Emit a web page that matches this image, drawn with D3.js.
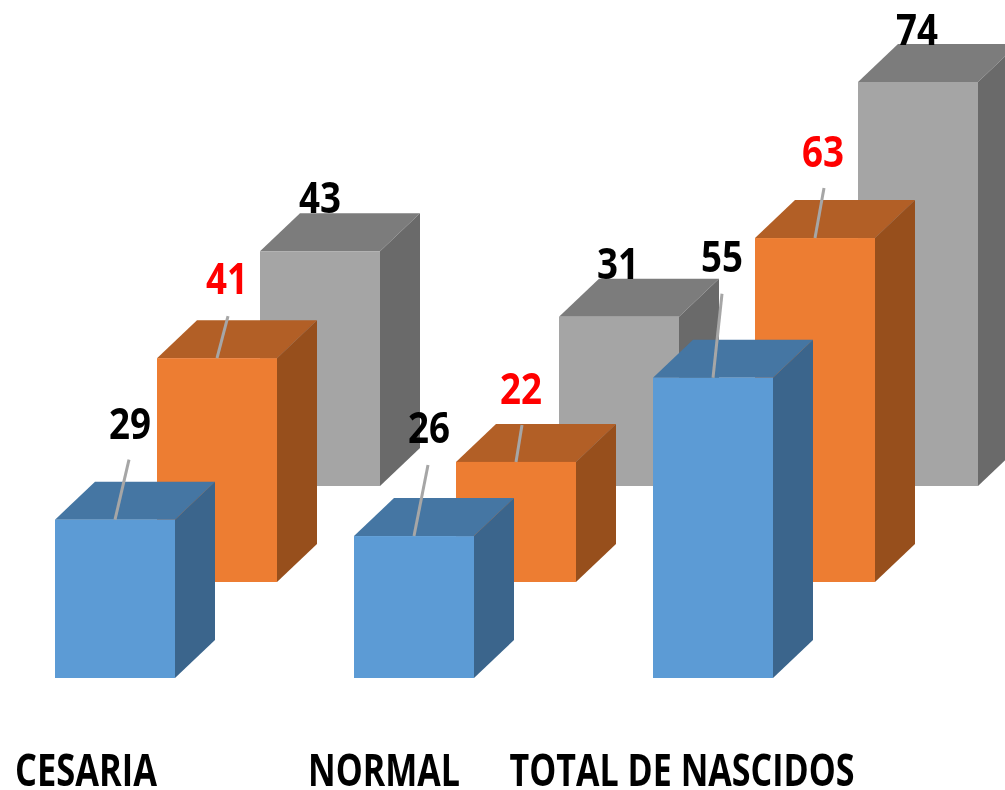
<!DOCTYPE html>
<html><head><meta charset="utf-8">
<script src="https://cdn.jsdelivr.net/npm/d3@7/dist/d3.min.js"></script>
<style>html,body{margin:0;padding:0;background:#fff;overflow:hidden}svg{display:block}</style>
</head><body><svg id="c" width="1005" height="790"></svg>
<script>
const categories = ["CESARIA","NORMAL","TOTAL DE NASCIDOS"];
const seriesNames = ["s3","s2","s1"];
const grayValues = [43,31,74];
const orangeValues = [41,22,63];
const blueValues = [29,26,55];
const svg = d3.select("#c");
const defs = svg.append("defs");
defs.append("filter").attr("id","soft").append("feGaussianBlur").attr("stdDeviation",0.7);
const root = svg.append("g").attr("filter","url(#soft)");
const fontFam = "'Open Sans', 'Noto Sans', sans-serif";
const W = 120, DX = 40, DY = 38;
const x = d3.scaleOrdinal().domain(categories).range([55,354,653]);
const offset = d3.scaleOrdinal().domain(seriesNames).range([205,102,0]);
const base = d3.scaleOrdinal().domain(seriesNames).range([486,582,678]);
const h = d3.scaleLinear().domain([0,74]).range([0,404]);
const cols = {
  s1:{front:"#5b9bd5",top:"#4476a3",side:"#3a658c",lab:"#000"},
  s2:{front:"#ed7d31",top:"#b25e25",side:"#97501f",lab:"#ff0000"},
  s3:{front:"#a5a5a5",top:"#7c7c7c",side:"#6a6a6a",lab:"#000"}};
const series = [["s3",grayValues],["s2",orangeValues],["s1",blueValues]];
// label placement relative to the centre of each bar's front top edge
const layout = {
  s1:[{tx:15,ty:-81,lx:14,ly:-60},{tx:15,ty:-93,lx:14,ly:-71},{tx:9,ty:-106,lx:9,ly:-84}],
  s2:[{tx:10,ty:-64,lx:11,ly:-42},{tx:5,ty:-58,lx:6,ly:-37},{tx:8,ty:-71,lx:9,ly:-50}],
  s3:[{tx:0,ty:-38},{tx:-1,ty:-38},{tx:-1,ty:-37}]
};
const line = d3.line();
series.forEach(([s,vals])=>{
  const g = root.append("g").attr("class",s);
  const c = cols[s];
  categories.forEach((cat,i)=>{
    const x0 = x(cat)+offset(s), y0 = base(s), t = y0-h(vals[i]);
    g.append("path").attr("d",line([[x0,t],[x0+W,t],[x0+W+DX,t-DY],[x0+DX,t-DY]])+"Z").attr("fill",c.top);
    g.append("path").attr("d",line([[x0+W,t],[x0+W+DX,t-DY],[x0+W+DX,y0-DY],[x0+W,y0]])+"Z").attr("fill",c.side);
    g.append("rect").attr("x",x0).attr("y",t).attr("width",W).attr("height",h(vals[i])).attr("fill",c.front);
  });
});
const labels = root.append("g");
series.forEach(([s,vals])=>{
  categories.forEach((cat,i)=>{
    const cx = x(cat)+offset(s)+W/2, t = base(s)-h(vals[i]), o = layout[s][i];
    if(o.lx!==undefined) labels.append("path").attr("d",line([[cx,t],[cx+o.lx,t+o.ly]]))
      .attr("stroke","#a6a6a6").attr("stroke-width",3).attr("fill","none");
    labels.append("text").attr("x",cx+o.tx).attr("y",t+o.ty)
      .attr("text-anchor","middle").attr("font-family",fontFam).attr("font-weight",700).attr("font-size",43)
      .attr("fill",cols[s].lab).attr("textLength",42).attr("lengthAdjust","spacingAndGlyphs").text(vals[i]);
  });
});
const catX = [86,384,682];
root.append("g").selectAll("text").data(categories).join("text")
  .attr("x",(d,i)=>catX[i]).attr("y",786).attr("text-anchor","middle")
  .attr("font-family",fontFam).attr("font-weight",700).attr("font-size",45).attr("fill","#000")
  .attr("textLength",(d,i)=>[142,152,345][i]).attr("lengthAdjust","spacingAndGlyphs").text(d=>d);
</script></body></html>
